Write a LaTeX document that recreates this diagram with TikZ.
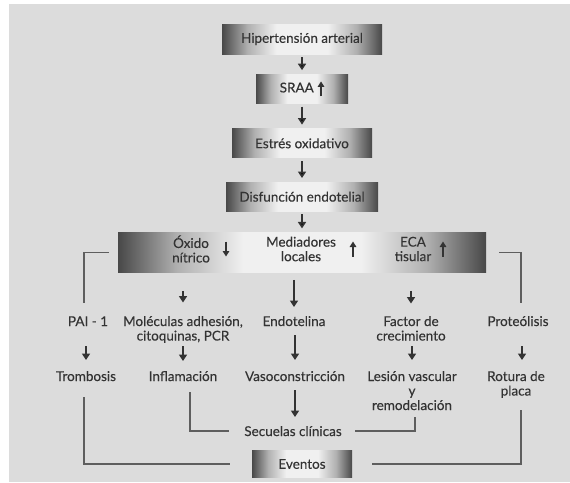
\documentclass[tikz,border=0pt]{standalone}
\usepackage{fontspec}
\setmainfont{Lato}[FakeBold=0.2]
\usepackage{tikz}
\usetikzlibrary{arrows.meta, positioning, calc}

\definecolor{panelgray}{HTML}{DCDCDC}
\definecolor{boxdark}{HTML}{484848}
\definecolor{boxmid}{HTML}{B0B0B0}
\definecolor{boxlight}{HTML}{F0F0F0}
\definecolor{inkgray}{HTML}{333333}
\definecolor{linegray}{HTML}{5E5E5E}

\pgfdeclarehorizontalshading{boxshade}{100bp}{color(0bp)=(boxdark); color(25bp)=(boxdark); color(33bp)=(boxmid); color(42bp)=(boxlight); color(58bp)=(boxlight); color(67bp)=(boxmid); color(75bp)=(boxdark); color(100bp)=(boxdark)}

\tikzset{tinyarr/.style={-{Triangle[width=6.5pt,length=5.5pt]}, line width=1.6pt, draw=inkgray}}
\newcommand{\arrup}{\tikz[baseline=-3.5pt]\draw[tinyarr] (0,-7.5pt) -- (0,7.5pt);}
\newcommand{\arrdn}{\tikz[baseline=-3.5pt]\draw[tinyarr] (0,7.5pt) -- (0,-7.5pt);}

\begin{document}
\begin{tikzpicture}[
    x=1pt, y=-1pt,
    font=\fontsize{13.5pt}{14.5pt}\selectfont,
    box/.style={shade, shading=boxshade, minimum height=29pt, inner sep=0pt, text=inkgray},
    lbl/.style={align=center, text=inkgray, inner sep=1pt, anchor=base},
    arrow/.style={-{Triangle[width=8pt,length=6.5pt]}, line width=1.8pt, draw=inkgray},
    link/.style={draw=linegray, line width=1.3pt},
]
    % Panel
    \useasboundingbox (0,0) rectangle (570,482);
    \fill[panelgray] (9,4) rectangle (570,482);

    % Main chain
    \node[box, minimum width=160pt, minimum height=30pt] (hip) at (302,39) {Hipertensión arterial};
    \node[box, minimum width=92pt, below=20pt of hip] (sraa) {SRAA\hspace{4pt}\arrup};
    \node[box, minimum width=140pt, below=25pt of sraa] (estres) {Estrés oxidativo};
    \node[box, minimum width=152pt, below=24pt of estres] (disf) {Disfunción endotelial};
    \node[box, minimum width=368pt, minimum height=40pt, below=21pt of disf] (medi) {};

    \draw[arrow, shorten <=3pt, shorten >=4pt] (hip) -- (sraa);
    \draw[arrow, shorten <=3pt, shorten >=4pt] (sraa) -- (estres);
    \draw[arrow, shorten <=3pt, shorten >=4pt] (estres) -- (disf);
    \draw[arrow, shorten <=3pt, shorten >=4pt] (disf) -- (medi);

    % Mediators inside the box
    \node[lbl, anchor=center] (oxido) at (191,249) {Óxido\\nítrico};
    \node[inner sep=0pt] (oxarr) at (226,249) {\arrdn};
    \node[lbl, anchor=center] (local) at (301,249) {Mediadores\\locales};
    \node[inner sep=0pt] (locarr) at (353,249) {\arrup};
    \node[lbl, anchor=center] (eca) at (413,249) {ECA\\tisular};
    \node[inner sep=0pt] (ecaarr) at (443,249) {\arrup};

    % First row (base = last line)
    \node[lbl] (pai) at (88,326) {PAI - 1};
    \node[lbl] (mol) at (183,340.5) {Moléculas adhesión,\\citoquinas, PCR};
    \node[lbl] (endo) at (294,326) {Endotelina};
    \node[lbl] (fact) at (411,340.5) {Factor de\\crecimiento};
    \node[lbl] (prot) at (518,326) {Proteólisis};

    % Second row
    \node[lbl] (trom) at (86,381) {Trombosis};
    \node[lbl] (infl) at (183,381) {Inflamación};
    \node[lbl] (vaso) at (295,381) {Vasoconstricción};
    \node[lbl] (lesi) at (412,410) {Lesión vascular\\y\\remodelación};
    \node[lbl] (rotu) at (516,395.5) {Rotura de\\placa};

    % Outcomes
    \node[lbl] (secu) at (293,436) {Secuelas clínicas};
    \node[box, minimum width=100pt, minimum height=27pt] (even) at (302,464) {Eventos};

    % Arrows from the mediators
    \draw[arrow, shorten <=18pt] (mol.base |- medi.south) -- ($(mol.base)+(0,-38)$);
    \draw[arrow, shorten <=7pt] (endo.base |- medi.south) -- ($(endo.base)+(0,-19)$);
    \draw[arrow, shorten <=18pt] (fact.base |- medi.south) -- ($(fact.base)+(0,-37)$);

    % Arrows to the second row
    \draw[arrow] ($(pai.base)+(-2,20)$) -- ($(trom.base)+(0,-21)$);
    \draw[arrow] ($(mol.base)+(0,5.5)$) -- ($(infl.base)+(0,-20)$);
    \draw[arrow] ($(endo.base)+(1,9)$) -- ($(vaso.base)+(0,-21)$);
    \draw[arrow] ($(fact.base)+(1,5.5)$) -- ($(lesi.base)+(0,-50)$);
    \draw[arrow] ($(prot.base)+(4,20)$) -- ($(rotu.base)+(6,-35.5)$);
    \draw[arrow] ($(vaso.base)+(0,9)$) -- ($(secu.base)+(2,-19)$);

    % Side connectors
    \draw[link] ([xshift=-9pt]medi.west) -| ($(pai.base)+(-4,-23)$);
    \draw[link] ([xshift=13pt]medi.east) -| ($(prot.base)+(3,-23)$);
    \draw[link] ($(infl.base)+(7,11)$) |- ([xshift=-14pt]secu.west);
    \draw[link] ($(lesi.base)+(3,7)$) |- ([xshift=12pt]secu.east);
    \draw[link] ($(trom.base)+(-2,16)$) |- ([xshift=-22pt]even.west);
    \draw[link] ($(rotu.base)+(5,14.5)$) |- ([xshift=20pt]even.east);
\end{tikzpicture}
\end{document}
